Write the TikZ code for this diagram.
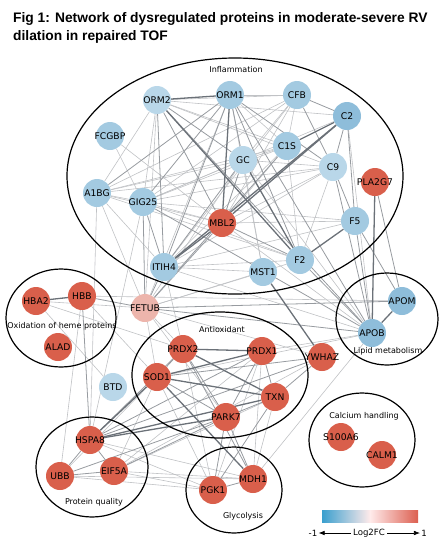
\documentclass[tikz,border=0pt]{standalone}
\usepackage{fontspec}
\usepackage{xcolor}
\usepackage{tikz}
\usetikzlibrary{arrows.meta}
\newfontfamily\labelfont{DejaVu Sans}
\newfontfamily\titlefont{Liberation Sans}
\definecolor{upred}{HTML}{D95F4B}
\definecolor{pinkish}{HTML}{EDB5AC}
\definecolor{bluedeep}{HTML}{8EBDDA}
\definecolor{bluemid}{HTML}{A3CAE1}
\definecolor{bluepale}{HTML}{B9D7E9}
\definecolor{edgelight}{HTML}{C0C2C5}
\definecolor{edgemid}{HTML}{979BA0}
\definecolor{edgedark}{HTML}{6B7178}
\definecolor{lgblue}{HTML}{3A9FCE}
\definecolor{lgred}{HTML}{DC5F50}
\pgfdeclarelayer{bg}
\pgfsetlayers{bg,main}

\begin{document}
\begin{tikzpicture}[
  x=1pt, y=-1pt,
  prot/.style={circle, minimum size=28pt, inner sep=0pt, font=\labelfont\fontsize{9.2}{10}\selectfont,
    execute at begin node={\hbox to 0pt\bgroup\hss}, execute at end node={\hss\egroup}},
  group/.style={draw=black, line width=1.2pt},
  grouplabel/.style={font=\labelfont\fontsize{8}{9}\selectfont, inner sep=1pt},
  elight/.style={draw=edgelight, line width=0.6pt},
  emid/.style={draw=edgemid, line width=0.8pt},
  edark/.style={draw=edgedark, line width=1.3pt}
]
  \useasboundingbox (0,0) rectangle (440,550);

  % title
  \node[anchor=base west, inner sep=0pt, font=\titlefont\bfseries\fontsize{13.8}{17}\selectfont] (title1) at (13,22) {Fig 1: Network of dysregulated proteins in moderate-severe RV};
  \node[anchor=base west, inner sep=0pt, font=\titlefont\bfseries\fontsize{13.8}{17}\selectfont] (title2) at (13,40) {dilation in repaired TOF};

  % functional groups
  \draw[group] (235,176) ellipse [x radius=168pt, y radius=118pt];
  \draw[group] (61,318) ellipse [x radius=55pt, y radius=49pt];
  \draw[group] (387,319) ellipse [x radius=51pt, y radius=46pt];
  \draw[group] (220,375) ellipse [x radius=88pt, y radius=63pt];
  \draw[group] (92,467) ellipse [x radius=56pt, y radius=50pt];
  \draw[group] (234,490) ellipse [x radius=48pt, y radius=43pt];
  \draw[group] (362,440) ellipse [x radius=53pt, y radius=47pt];

  \node[grouplabel] (linfl) at (236,70) {Inflammation};
  \node[grouplabel] (lheme) at (62,326) {Oxidation of heme proteins};
  \node[grouplabel] (llipid) at (388,351) {Lipid metabolism};
  \node[grouplabel] (lanti) at (222,330) {Antioxidant};
  \node[grouplabel] (lprot) at (94,502) {Protein quality};
  \node[grouplabel] (lglyc) at (243,516) {Glycolysis};
  \node[grouplabel] (lcalc) at (364,416) {Calcium handling};

  % proteins
  \node[prot, fill=bluepale] (orm2) at (157,100) {ORM2};
  \node[prot, fill=bluemid] (orm1) at (230,95) {ORM1};
  \node[prot, fill=bluemid] (fcgbp) at (110,136) {FCGBP};
  \node[prot, fill=bluepale] (gc) at (243,160) {GC};
  \node[prot, fill=bluemid] (a1bg) at (97,193) {A1BG};
  \node[prot, fill=bluemid] (gig25) at (143,202) {GIG25};
  \node[prot, fill=bluemid] (cfb) at (297,95) {CFB};
  \node[prot, fill=bluedeep] (c2) at (347,116) {C2};
  \node[prot, fill=bluemid] (c1s) at (287,146) {C1S};
  \node[prot, fill=bluepale] (c9) at (333,167) {C9};
  \node[prot, fill=upred] (pla2g7) at (375,182) {PLA2G7};
  \node[prot, fill=upred] (mbl2) at (222,223) {MBL2};
  \node[prot, fill=bluemid] (itih4) at (164,267) {ITIH4};
  \node[prot, fill=bluemid] (mst1) at (263,272) {MST1};
  \node[prot, fill=bluemid] (f2) at (300,260) {F2};
  \node[prot, fill=bluemid] (f5) at (355,221) {F5};
  \node[prot, fill=bluedeep] (apom) at (402,301) {APOM};
  \node[prot, fill=bluedeep] (apob) at (372,333) {APOB};
  \node[prot, fill=upred] (ywhaz) at (322,357) {YWHAZ};
  \node[prot, fill=pinkish] (fetub) at (145,308) {FETUB};
  \node[prot, fill=upred] (hbb) at (82,296) {HBB};
  \node[prot, fill=upred] (hba2) at (36,301) {HBA2};
  \node[prot, fill=upred] (alad) at (58,347) {ALAD};
  \node[prot, fill=upred] (prdx2) at (183,349) {PRDX2};
  \node[prot, fill=upred] (prdx1) at (262,351) {PRDX1};
  \node[prot, fill=upred] (sod1) at (157,377) {SOD1};
  \node[prot, fill=upred] (txn) at (275,397) {TXN};
  \node[prot, fill=upred] (park7) at (226,417) {PARK7};
  \node[prot, fill=bluepale] (btd) at (113,387) {BTD};
  \node[prot, fill=upred] (hspa8) at (90,440) {HSPA8};
  \node[prot, fill=upred] (ubb) at (60,476) {UBB};
  \node[prot, fill=upred] (eif5a) at (114,471) {EIF5A};
  \node[prot, fill=upred] (pgk1) at (213,490) {PGK1};
  \node[prot, fill=upred] (mdh1) at (253,479) {MDH1};
  \node[prot, fill=upred] (s100a6) at (341,437) {S100A6};
  \node[prot, fill=upred] (calm1) at (382,455) {CALM1};

  % interactions
  \begin{pgfonlayer}{bg}
  \foreach \a/\b in {fcgbp/gig25, fcgbp/mbl2, a1bg/gig25, a1bg/orm2, a1bg/gc, a1bg/c1s, a1bg/c9,
      a1bg/itih4, a1bg/fetub, a1bg/mbl2, a1bg/f2, a1bg/cfb, gig25/orm2, gig25/gc, gig25/c1s,
      gig25/c2, gig25/c9, gig25/f2, gig25/mbl2, gig25/f5, cfb/c1s, cfb/gc, cfb/gig25, cfb/itih4,
      cfb/mbl2, cfb/orm2, c1s/gc, c1s/mbl2, c1s/itih4, c1s/orm2, c1s/orm1, c1s/f2, c9/gc,
      c9/itih4, c9/f2, c9/mbl2, orm1/fetub, orm1/cfb, orm2/fetub, orm2/c9, orm2/c2, gc/fetub,
      f2/itih4, f2/fetub, mst1/gc, mst1/orm1, mst1/itih4, mst1/fetub, f5/itih4, f5/mbl2,
      itih4/apob, mbl2/apob, c2/apob, gc/apob, hba2/btd, hba2/fetub, hba2/prdx2, hbb/ubb,
      hbb/sod1, hbb/apom, fetub/ywhaz, fetub/prdx2, gig25/hspa8, a1bg/hspa8, sod1/eif5a,
      sod1/ubb, sod1/pgk1, prdx2/pgk1, prdx1/pgk1, prdx1/mdh1, prdx1/eif5a, txn/mdh1,
      txn/eif5a, ywhaz/eif5a, hspa8/pgk1, hspa8/mdh1, ubb/pgk1, eif5a/pgk1, eif5a/mdh1,
      ubb/mdh1, apob/mdh1, apob/sod1, apob/prdx1, fetub/sod1, fetub/park7, itih4/prdx2}
    \draw[elight] (\a) -- (\b);
  \foreach \a/\b in {orm2/gc, orm2/mbl2, orm2/itih4, orm1/gc, orm1/gig25, orm1/a1bg, orm1/itih4,
      orm1/f2, orm1/c9, cfb/c2, cfb/c9, c2/c9, c2/f5, c9/f5, c9/apob, f5/apom, f5/apob,
      pla2g7/apom, f2/apob, f2/mbl2, gc/mbl2, gc/itih4, gig25/itih4, gig25/fetub, itih4/fetub,
      mbl2/fetub, c1s/fetub, fetub/apom, fetub/apob, hbb/fetub, hbb/hspa8, prdx1/txn,
      prdx2/sod1, prdx2/park7, prdx1/park7, txn/park7, sod1/park7, park7/eif5a, park7/ubb,
      hspa8/ubb, hspa8/eif5a, prdx1/hspa8, txn/ywhaz, ywhaz/sod1, pgk1/mdh1, park7/pgk1,
      park7/mdh1, txn/pgk1, prdx2/mdh1, hspa8/prdx2, gig25/apob, orm2/apob, ywhaz/hspa8,
      ubb/eif5a, orm1/apob}
    \draw[emid] (\a) -- (\b);
  \foreach \a/\b in {orm2/orm1, c2/c1s, c2/mbl2, c2/itih4, mbl2/itih4, f5/f2, pla2g7/apob,
      apob/apom, mst1/ywhaz, hbb/hba2, prdx2/prdx1, sod1/hspa8, sod1/txn, sod1/prdx1,
      prdx2/txn, sod1/mdh1, orm2/f2, orm1/mbl2, gc/f2, hspa8/park7, hspa8/txn}
    \draw[edark] (\a) -- (\b);
  \end{pgfonlayer}

  % legend
  \shade[left color=lgblue, right color=lgred, middle color=white!92!red] (322,510) rectangle (418,522);
  \node[font=\labelfont\fontsize{8.6}{9}\selectfont, inner sep=1pt] (lmin) at (313,533) {-1};
  \node[font=\labelfont\fontsize{8.6}{9}\selectfont, inner sep=2pt] (lfc) at (369,533) {Log2FC};
  \node[font=\labelfont\fontsize{8.6}{9}\selectfont, inner sep=1pt] (lmax) at (424,533) {1};
  \draw[-Latex, line width=0.7pt] (lfc) -- (lmin);
  \draw[-Latex, line width=0.7pt] (lfc) -- (lmax);
\end{tikzpicture}
\end{document}
